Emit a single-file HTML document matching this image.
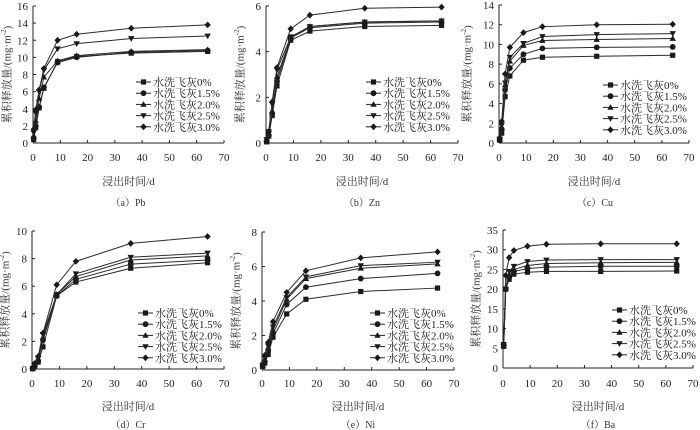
<!DOCTYPE html>
<html><head><meta charset="utf-8">
<style>
html,body{margin:0;padding:0;background:#fff;}
svg{display:block;font-family:"Liberation Serif","Noto Serif CJK SC",serif;}
</style></head>
<body>
<svg id="chart" width="700" height="430" viewBox="0 0 700 430" xmlns="http://www.w3.org/2000/svg"></svg>
<script>
const times = [0.25, 1, 2.25, 4, 9, 16, 36, 64];
const seriesNames = ["水洗飞灰0%","水洗飞灰1.5%","水洗飞灰2.0%","水洗飞灰2.5%","水洗飞灰3.0%"];
const xTicks = [0,10,20,30,40,50,60,70];
const pbValues = [
 [0.4,1.8,4.1,6.4,9.5,10.1,10.5,10.7],
 [0.6,2.0,4.2,6.5,9.4,10.0,10.6,10.8],
 [0.8,2.6,5.2,7.7,9.6,10.2,10.7,10.9],
 [1.2,3.5,6.0,8.5,11.0,11.6,12.2,12.5],
 [1.6,3.9,6.2,8.7,12.0,12.7,13.4,13.8]];
const znValues = [
 [0.05,0.3,1.2,2.5,4.5,4.9,5.1,5.15],
 [0.08,0.35,1.3,2.7,4.6,5.05,5.25,5.3],
 [0.1,0.4,1.4,2.9,4.6,5.1,5.3,5.35],
 [0.15,0.5,1.7,3.2,4.65,5.1,5.3,5.35],
 [0.1,0.5,1.8,3.3,5.0,5.6,5.9,5.95]];
const cuValues = [
 [0.3,1.0,4.7,6.8,8.4,8.7,8.8,8.9],
 [0.3,1.4,5.4,7.6,9.0,9.6,9.7,9.75],
 [0.4,1.6,5.9,8.3,9.9,10.4,10.5,10.6],
 [0.4,1.8,6.1,8.7,10.1,10.8,11.0,11.1],
 [0.5,2.2,7.0,9.7,11.2,11.8,12.0,12.05]];
const crValues = [
 [0.02,0.2,0.5,1.6,5.3,6.3,7.3,7.7],
 [0.03,0.25,0.6,2.1,5.3,6.5,7.6,7.9],
 [0.04,0.3,0.7,2.3,5.4,6.7,7.9,8.2],
 [0.05,0.35,0.8,2.5,5.4,6.9,8.1,8.4],
 [0.05,0.4,0.9,2.6,6.1,7.8,9.1,9.6]];
const niValues = [
 [0.2,0.4,0.9,1.9,3.25,4.1,4.55,4.75],
 [0.25,0.5,1.1,2.1,3.8,4.8,5.3,5.6],
 [0.25,0.6,1.3,2.3,4.1,5.3,5.9,6.15],
 [0.3,0.7,1.4,2.5,4.2,5.4,6.05,6.25],
 [0.3,0.85,1.6,2.8,4.5,5.75,6.5,6.85]];
const baValues = [
 [5.5,20,22.5,23.8,24.3,24.5,24.5,24.6],
 [5.7,20,23,24.5,25.2,25.6,25.8,25.8],
 [5.8,20.3,23.5,25,26,26.5,26.7,26.8],
 [6,20,24.5,25.8,27,27.4,27.5,27.5],
 [6,23.5,28,29.8,30.9,31.4,31.5,31.5]];
const pbTicks=[0,2,4,6,8,10,12,14,16];
const znTicks=[0,2,4,6];
const cuTicks=[0,2,4,6,8,10,12,14];
const crTicks=[0,2,4,6,8,10];
const niTicks=[0,2,4,6,8];
const baTicks=[0,5,10,15,20,25,30,35];

const NS="http://www.w3.org/2000/svg";
const svg=document.getElementById('chart');
function mk(tag,attrs,parent){const e=document.createElementNS(NS,tag);for(const k in attrs)e.setAttribute(k,attrs[k]);(parent||svg).appendChild(e);return e;}

const panels=[
 {id:'pb',cap:'（a）Pb',vals:pbValues,ticks:pbTicks,ax:33,x1:224,y0:143,y1:6,ttlX:8,leg:[136,82],capX:128,tickY:161,xlY:185,capY:206},
 {id:'zn',cap:'（b）Zn',vals:znValues,ticks:znTicks,ax:266,x1:458,y0:143,y1:6,ttlX:241,leg:[366,82],capX:362,tickY:161,xlY:185,capY:206},
 {id:'cu',cap:'（c）Cu',vals:cuValues,ticks:cuTicks,ax:499,x1:689,y0:143,y1:5,ttlX:468,leg:[603,85],capX:595,tickY:161,xlY:185,capY:206},
 {id:'cr',cap:'（d）Cr',vals:crValues,ticks:crTicks,ax:32,x1:224,y0:369,y1:231,ttlX:6,leg:[138,313],capX:128,tickY:387,xlY:410,capY:428},
 {id:'ni',cap:'（e）Ni',vals:niValues,ticks:niTicks,ax:262,x1:454,y0:370,y1:232,ttlX:237,leg:[370,313],capX:358,tickY:387,xlY:410,capY:428},
 {id:'ba',cap:'（f）Ba',vals:baValues,ticks:baTicks,ax:503,x1:693,y0:368,y1:230,ttlX:477,leg:[612,310],capX:598,tickY:387,xlY:410,capY:428}
];

function marker(g,type,x,y){
  const c='#1a1a1a';let e;
  if(type===0) e=mk('rect',{x:x-2.6,y:y-2.6,width:5.2,height:5.2,fill:c},g);
  else if(type===1) e=mk('circle',{cx:x,cy:y,r:2.9,fill:c},g);
  else if(type===2) e=mk('polygon',{points:`${x},${y-3.3} ${x+3.2},${y+2.4} ${x-3.2},${y+2.4}`,fill:c},g);
  else if(type===3) e=mk('polygon',{points:`${x},${y+3.3} ${x+3.2},${y-2.4} ${x-3.2},${y-2.4}`,fill:c},g);
  else e=mk('polygon',{points:`${x},${y-3.4} ${x+3.2},${y} ${x},${y+3.4} ${x-3.2},${y}`,fill:c},g);
  
  
}

panels.forEach(p=>{
  const g=mk('g',{});
  
  
  const ymax=p.ticks[p.ticks.length-1];
  const sx=v=>p.ax+(v/70)*(p.x1-p.ax);
  const sy=v=>p.y0-(v/ymax)*(p.y0-p.y1);
  // axes
  const xa=mk('line',{x1:p.ax,y1:p.y0,x2:p.x1,y2:p.y0,stroke:'#222','stroke-width':1},g);
  
  const ya=mk('line',{x1:p.ax,y1:p.y0,x2:p.ax,y2:p.y1,stroke:'#222','stroke-width':1},g);
  
  xTicks.forEach(t=>{
    mk('line',{x1:sx(t),y1:p.y0,x2:sx(t),y2:p.y0-3,stroke:'#222'},g);
    const tx=mk('text',{x:sx(t),y:p.tickY,'font-size':11,'text-anchor':'middle',fill:'#222'},g);
    tx.textContent=t;
    
  });
  p.ticks.forEach(t=>{
    mk('line',{x1:p.ax,y1:sy(t),x2:p.ax+3,y2:sy(t),stroke:'#222'},g);
    const tx=mk('text',{x:p.ax-5,y:sy(t)+4,'font-size':11,'text-anchor':'end',fill:'#222'},g);
    tx.textContent=t;
    
  });
  // y title
  const cy=(p.y0+p.y1)/2;
  const yt=mk('text',{x:p.ttlX,y:cy,'font-size':11,'text-anchor':'middle',fill:'#333',transform:`rotate(-90 ${p.ttlX} ${cy})`,'dominant-baseline':'middle'},g);
  yt.innerHTML='累积释放量/(mg·m<tspan font-size="7" dy="-4">-2</tspan><tspan dy="4">)</tspan>';
  
  const xl=mk('text',{x:(p.ax+p.x1)/2,y:p.xlY,'font-size':11,'text-anchor':'middle',fill:'#333'},g);
  xl.textContent='浸出时间/d';
  
  const cp=mk('text',{x:p.capX,y:p.capY,'font-size':10,'text-anchor':'middle',fill:'#333'},g);
  cp.textContent=p.cap;
  
  // series
  p.vals.forEach((vals,si)=>{
    const pts=vals.map((v,i)=>`${sx(times[i])},${sy(v)}`).join(' ');
    const pl=mk('polyline',{points:pts,fill:'none',stroke:'#2a2a2a','stroke-width':1},g);
    
    vals.forEach((v,i)=>marker(g,si,sx(times[i]),sy(v)));
  });
  // legend
  seriesNames.forEach((n,si)=>{
    const lx=p.leg[0],ly=p.leg[1]+si*11.2;
    const lg=mk('g',{},g);
    
    mk('line',{x1:lx,y1:ly,x2:lx+15,y2:ly,stroke:'#222'},lg);
    marker(lg,si,lx+7.5,ly);
    const t=mk('text',{x:lx+17,y:ly+4,'font-size':11,fill:'#222'},lg);
    t.textContent=n;
  });
});
</script>
</body></html>
